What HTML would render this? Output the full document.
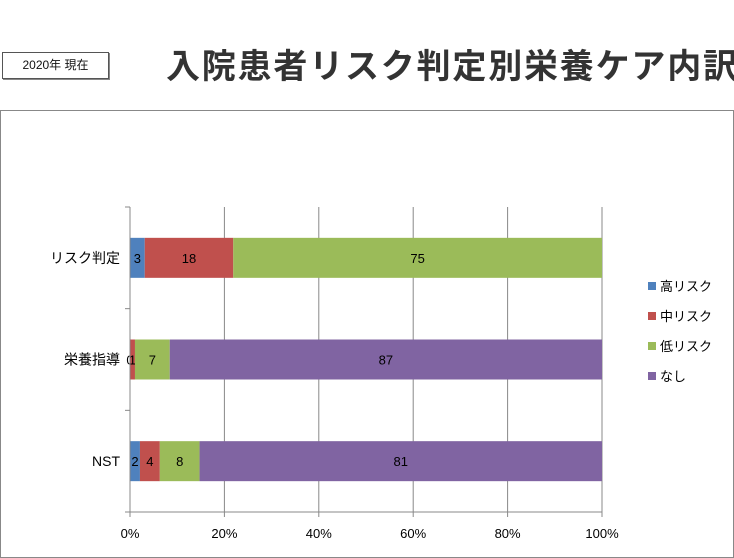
<!DOCTYPE html>
<html><head><meta charset="utf-8"><style>
body{margin:0;width:734px;height:554px;background:#fff;overflow:hidden;font-family:"Liberation Sans","Noto Sans CJK JP",sans-serif;}
#box{position:absolute;left:2px;top:52px;width:105px;height:25px;border:1px solid #555;box-shadow:1px 1px 0 #888;font-size:12px;line-height:25px;text-align:center;color:#111;}
#title{position:absolute;left:166px;top:39px;font-size:34px;font-weight:bold;color:#333;letter-spacing:1.8px;white-space:nowrap;}
#frame{position:absolute;left:0;top:110px;width:732px;height:446px;border:1px solid #888;}
svg{position:absolute;left:0;top:0;}
</style></head><body>
<div id="box">2020年 現在</div>
<div id="title">入院患者リスク判定別栄養ケア内訳</div>
<div id="frame"></div>
<svg id="chart" width="734" height="554"></svg>
<script>
const categories=["リスク判定","栄養指導","NST"];
const seriesNames=["高リスク","中リスク","低リスク","なし"];
const highRisk=[3,0,2];
const midRisk=[18,1,4];
const lowRisk=[75,7,8];
const noneRisk=[0,87,81];
const tickLabels=["0%","20%","40%","60%","80%","100%"];
const colors=["#4f81bd","#c0504d","#9bbb59","#8064a2"];
const series=[highRisk,midRisk,lowRisk,noneRisk];
const NS="http://www.w3.org/2000/svg";
const svg=document.getElementById('chart');
const x0=130,x1=602,yTop=207,yBot=512;
const band=(yBot-yTop)/categories.length;
const xs=p=>x0+(x1-x0)*p/100;
const yc=i=>yTop+band*(i+0.5);
function mk(t,a){const e=document.createElementNS(NS,t);for(const k in a)e.setAttribute(k,a[k]);svg.appendChild(e);return e;}
tickLabels.forEach((t,i)=>{const x=xs(i*20);
const g=mk('line',{x1:x,x2:x,y1:yTop,y2:yBot,stroke:'#888','stroke-width':1});


const tx=mk('text',{x:x,y:yBot+26,'text-anchor':'middle','font-size':13,fill:'#000'});tx.textContent=t;


mk('line',{x1:x,x2:x,y1:yBot,y2:yBot+5,stroke:'#888'});});
mk('line',{x1:x0,x2:x1,y1:yBot,y2:yBot,stroke:'#888'});
for(let i=0;i<=categories.length;i++){mk('line',{x1:x0-5,x2:x0,y1:yTop+band*i,y2:yTop+band*i,stroke:'#888'});}
categories.forEach((c,i)=>{
const tot=series.reduce((s,a)=>s+a[i],0);let acc=0;
const cl=mk('text',{x:x0-10,y:yc(i)+5,'text-anchor':'end','font-size':14,fill:'#000'});cl.textContent=c;


series.forEach((arr,s)=>{const v=arr[i];const a=xs(acc/tot*100);acc+=v;const b=xs(acc/tot*100);
if(v===0&&s===3)return;
const r=mk('rect',{x:a,y:yc(i)-20,width:Math.max(0,b-a),height:40,fill:colors[s]});


const t=mk('text',{x:(a+b)/2,y:yc(i)+5,'text-anchor':'middle','font-size':13,fill:'#000'});t.textContent=v;

});});
mk('line',{x1:x0,x2:x0,y1:yTop,y2:yBot,stroke:'#888'});
seriesNames.forEach((n,i)=>{const y=286+i*30;
const r=mk('rect',{x:648,y:y-4,width:8,height:8,fill:colors[i]});


const t=mk('text',{x:660,y:y+5,'font-size':13,fill:'#000'});t.textContent=n;

});
</script>
</body></html>
